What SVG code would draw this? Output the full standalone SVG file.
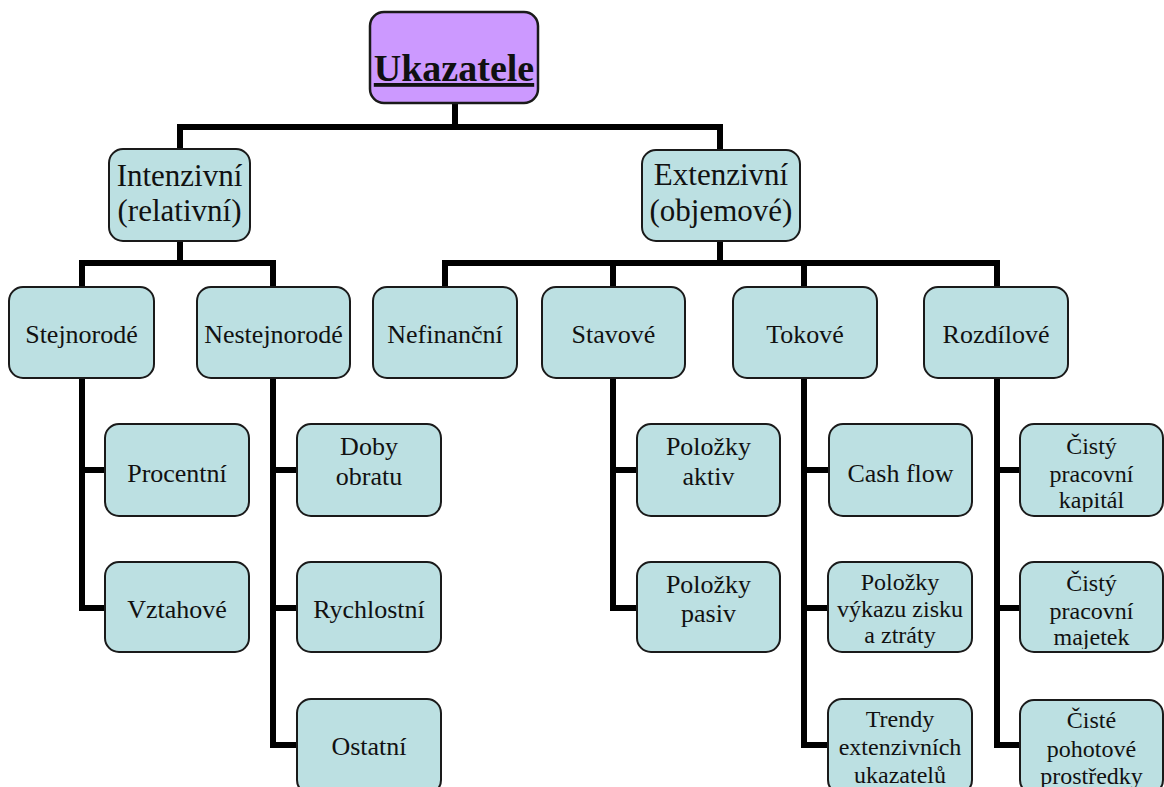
<svg xmlns="http://www.w3.org/2000/svg" width="1164" height="787" viewBox="0 0 1164 787">
<style>
.box{fill:#bce0e2;stroke:#1a1a1a;stroke-width:2}
.root{fill:#cc99ff;stroke:#1a1a1a;stroke-width:2.5}
text{fill:#111;text-anchor:middle}
.l1{font-size:31px}
.l2{font-size:26px}
.l3{font-size:24px}
.conn path{fill:none;stroke:#000;stroke-width:6;stroke-linejoin:miter;stroke-linecap:butt}
</style>
<defs>
<clipPath id="c1"><rect x="1020" y="424" width="143" height="88"/></clipPath>
<clipPath id="c2"><rect x="828" y="562" width="144" height="87"/></clipPath>
<clipPath id="c3"><rect x="1020" y="562" width="143" height="87"/></clipPath>
</defs>
<rect width="1164" height="787" fill="#fff"/>
<g class="conn" id="connectors">
<path d="M455 103V127"/>
<path d="M180 149V127H720V150"/>
<path d="M180 241V263"/>
<path d="M82 287V263H273V287"/>
<path d="M720 241V263"/>
<path d="M445 287V263H997V287"/>
<path d="M613 263V287"/>
<path d="M804 263V287"/>
<path d="M82 378V608H105M82 470H105"/>
<path d="M273 378V745H297M273 470H297M273 608H297"/>
<path d="M613 378V608H637M613 470H637"/>
<path d="M804 378V745H829M804 470H829M804 608H829"/>
<path d="M997 378V745H1020M997 470H1020M997 608H1020"/>
</g>
<g font-family="'Liberation Serif', 'Times New Roman', Tinos, 'DejaVu Serif', serif">
<g id="ukazatele">
<rect class="root" x="370" y="12" width="168" height="91" rx="14"/>
<text x="454" y="81" font-size="38" font-weight="bold" text-decoration="underline">Ukazatele</text>
</g>
<g id="intenzivni">
<rect class="box" x="109" y="149" width="141" height="92" rx="14"/>
<text class="l1" x="179.5" y="186">Intenzivní</text>
<text class="l1" x="179.5" y="221">(relativní)</text>
</g>
<g id="extenzivni">
<rect class="box" x="642" y="150" width="158" height="91" rx="14"/>
<text class="l1" x="721" y="185">Extenzivní</text>
<text class="l1" x="721" y="221">(objemové)</text>
</g>
<g id="stejnorode">
<rect class="box" x="9" y="287" width="145" height="91" rx="14"/>
<text class="l2" x="81.5" y="343">Stejnorodé</text>
</g>
<g id="nestejnorode">
<rect class="box" x="197" y="287" width="153" height="91" rx="14"/>
<text class="l2" x="273.5" y="343">Nestejnorodé</text>
</g>
<g id="nefinancni">
<rect class="box" x="373" y="287" width="144" height="91" rx="14"/>
<text class="l2" x="445" y="343">Nefinanční</text>
</g>
<g id="stavove">
<rect class="box" x="542" y="287" width="143" height="91" rx="14"/>
<text class="l2" x="613.5" y="343">Stavové</text>
</g>
<g id="tokove">
<rect class="box" x="733" y="287" width="144" height="91" rx="14"/>
<text class="l2" x="805" y="343">Tokové</text>
</g>
<g id="rozdilove">
<rect class="box" x="924" y="287" width="144" height="91" rx="14"/>
<text class="l2" x="996" y="343">Rozdílové</text>
</g>
<g id="procentni">
<rect class="box" x="105" y="424" width="144" height="92" rx="14"/>
<text class="l2" x="177" y="482">Procentní</text>
</g>
<g id="vztahove">
<rect class="box" x="105" y="562" width="144" height="90" rx="14"/>
<text class="l2" x="177" y="618">Vztahové</text>
</g>
<g id="doby-obratu">
<rect class="box" x="297" y="424" width="144" height="92" rx="14"/>
<text class="l2" x="369" y="455">Doby</text>
<text class="l2" x="369" y="485">obratu</text>
</g>
<g id="rychlostni">
<rect class="box" x="297" y="562" width="144" height="90" rx="14"/>
<text class="l2" x="369" y="618">Rychlostní</text>
</g>
<g id="ostatni">
<rect class="box" x="297" y="699" width="144" height="95" rx="14"/>
<text class="l2" x="369" y="755">Ostatní</text>
</g>
<g id="polozky-aktiv">
<rect class="box" x="637" y="424" width="143" height="92" rx="14"/>
<text class="l2" x="708.5" y="455">Položky</text>
<text class="l2" x="708.5" y="485">aktiv</text>
</g>
<g id="polozky-pasiv">
<rect class="box" x="637" y="562" width="143" height="90" rx="14"/>
<text class="l2" x="708.5" y="593">Položky</text>
<text class="l2" x="708.5" y="622">pasiv</text>
</g>
<g id="cash-flow">
<rect class="box" x="829" y="424" width="143" height="92" rx="14"/>
<text class="l2" x="900.5" y="482">Cash flow</text>
</g>
<g id="polozky-vykazu">
<rect class="box" x="828" y="562" width="144" height="90" rx="14"/>
<g clip-path="url(#c2)">
<text class="l3" x="900" y="590">Položky</text>
<text class="l3" x="900" y="617">výkazu zisku</text>
<text class="l3" x="900" y="643">a ztráty</text>
</g>
</g>
<g id="trendy">
<rect class="box" x="828" y="699" width="144" height="95" rx="14"/>
<text class="l3" x="900" y="727">Trendy</text>
<text class="l3" x="900" y="755">extenzivních</text>
<text class="l3" x="900" y="783">ukazatelů</text>
</g>
<g id="cisty-pracovni-kapital">
<rect class="box" x="1020" y="424" width="143" height="92" rx="14"/>
<g clip-path="url(#c1)">
<text class="l3" x="1091.5" y="454">Čistý</text>
<text class="l3" x="1091.5" y="482">pracovní</text>
<text class="l3" x="1091.5" y="508">kapitál</text>
</g>
</g>
<g id="cisty-pracovni-majetek">
<rect class="box" x="1020" y="562" width="143" height="90" rx="14"/>
<g clip-path="url(#c3)">
<text class="l3" x="1091.5" y="591">Čistý</text>
<text class="l3" x="1091.5" y="619">pracovní</text>
<text class="l3" x="1091.5" y="645">majetek</text>
</g>
</g>
<g id="ciste-pohotove-prostredky">
<rect class="box" x="1020" y="700" width="143" height="94" rx="14"/>
<text class="l3" x="1091.5" y="728">Čisté</text>
<text class="l3" x="1091.5" y="757">pohotové</text>
<text class="l3" x="1091.5" y="784">prostředky</text>
</g>
</g>
</svg>
